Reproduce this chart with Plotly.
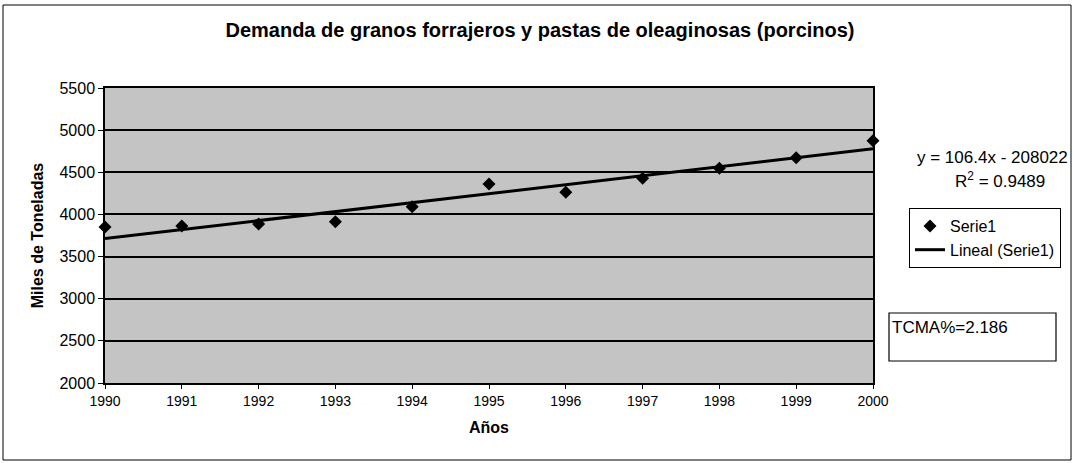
import plotly.graph_objects as go

years = [1990, 1991, 1992, 1993, 1994, 1995, 1996, 1997, 1998, 1999, 2000]
demanda = [3850, 3862, 3886, 3914, 4092, 4361, 4262, 4429, 4547, 4673, 4875]
trend_slope = 106.4
trend_intercept = -208022
r_squared = 0.9489
tcma = 2.186
y_ticks = [2000, 2500, 3000, 3500, 4000, 4500, 5000, 5500]

title_text = "Demanda de granos forrajeros y pastas de oleaginosas (porcinos)"
trend_x = [years[0], years[-1]]
trend_y = [trend_slope * x + trend_intercept for x in trend_x]

FONT = "Liberation Sans, Arial, sans-serif"

W, H = 1074, 463
# plot area in page pixels
P_L, P_R, P_T, P_B = 105, 873, 88, 383
L, T = P_L, P_T
R, B = W - P_R, H - P_B
pw, ph = W - L - R, H - T - B


def px(x):
    return (x - L) / pw


def py(y):
    return (H - B - y) / ph


fig = go.Figure()
fig.add_trace(go.Scatter(
    x=years, y=demanda, mode="markers", name="Serie1",
    marker=dict(symbol="diamond", size=10, color="black"),
    cliponaxis=False,
))
fig.add_trace(go.Scatter(
    x=trend_x, y=trend_y, mode="lines", name="Lineal (Serie1)",
    line=dict(color="black", width=3),
))

fig.update_layout(
    width=W, height=H,
    margin=dict(l=L, r=R, t=T, b=B),
    paper_bgcolor="white",
    plot_bgcolor="#c4c4c4",
    font=dict(family=FONT, size=16, color="black"),
    title=dict(text="<b>" + title_text + "</b>", x=540 / W, xref="container",
               xanchor="center", y=1 - 30 / H, yref="container", yanchor="middle",
               font=dict(size=20, family=FONT, color="black")),
    xaxis=dict(
        range=[1990, 2000], tickmode="array", tickvals=years,
        ticktext=[str(y) for y in years],
        showgrid=False, zeroline=False,
        showline=True, linecolor="black", linewidth=1.5, mirror=True,
        ticks="outside", ticklen=4, tickcolor="black",
        tickfont=dict(size=14),
        title=dict(text="<b>Años</b>", font=dict(size=16), standoff=14),
    ),
    yaxis=dict(
        range=[2000, 5500], tickmode="array", tickvals=y_ticks,
        showgrid=True, gridcolor="black", gridwidth=1.8, zeroline=False,
        showline=True, linecolor="black", linewidth=1.5, mirror=True,
        ticks="outside", ticklen=5, tickcolor="black",
        tickfont=dict(size=16),
        title=dict(text="<b>Miles de Toneladas</b>", font=dict(size=16), standoff=12),
    ),
    showlegend=True,
    legend=dict(
        x=px(909), y=py(208), xanchor="left", yanchor="top",
        bordercolor="black", borderwidth=1, bgcolor="white",
        font=dict(size=16), itemwidth=30, tracegroupgap=0,
    ),
)

# outer frame
fig.add_shape(type="rect", xref="paper", yref="paper",
              x0=px(3), x1=px(1071), y0=py(460), y1=py(5),
              line=dict(color="black", width=1), layer="below")

# TCMA box
fig.add_shape(type="rect", xref="paper", yref="paper",
              x0=px(889), x1=px(1056), y0=py(361), y1=py(313),
              line=dict(color="black", width=1.2), fillcolor="white")
fig.add_annotation(xref="paper", yref="paper", x=px(890), y=py(327),
                   xanchor="left", yanchor="middle", showarrow=False,
                   text=f"TCMA%={tcma}", font=dict(size=17))

# regression equation
sign = "-" if trend_intercept < 0 else "+"
fig.add_annotation(xref="paper", yref="paper", x=px(1070), y=py(157),
                   xanchor="right", yanchor="middle", showarrow=False,
                   text=f"y = {trend_slope}x {sign} {abs(trend_intercept)}",
                   font=dict(size=17))
fig.add_annotation(xref="paper", yref="paper", x=px(1000), y=py(180),
                   xanchor="center", yanchor="middle", showarrow=False,
                   text=f"R<sup>2</sup> = {r_squared}", font=dict(size=17))

fig.write_html("out.html",
               config={"displayModeBar": False},
               post_script="document.body.style.margin='0';"
                           "document.body.style.overflow='hidden';")
